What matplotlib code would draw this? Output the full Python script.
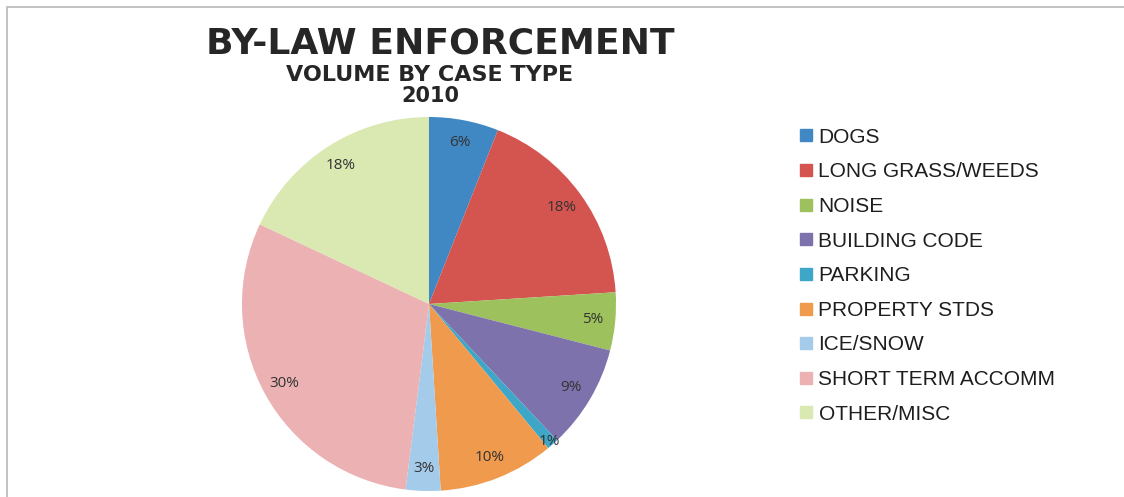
import matplotlib.pyplot as plt
from matplotlib.lines import Line2D
from matplotlib.patches import Rectangle

# Datos
categorias = ["DOGS", "LONG GRASS/WEEDS", "NOISE", "BUILDING CODE", "PARKING",
              "PROPERTY STDS", "ICE/SNOW", "SHORT TERM ACCOMM", "OTHER/MISC"]
porcentajes = [6, 18, 5, 9, 1, 10, 3, 30, 18]
colores = ["#3f88c3", "#d4544f", "#9dc15c", "#7e72ad", "#3ea7c7",
           "#ef9a4d", "#a5cbeb", "#ecb1b3", "#dae8b2"]

W, H = 1124, 497
fig = plt.figure(figsize=(W / 100, H / 100), dpi=100)
fig.patch.set_facecolor("white")

# marco gris del grafico
fig.add_artist(Rectangle((7 / W, -0.1), 1.2, (H - 7) / H + 0.1, transform=fig.transFigure,
                         fill=False, edgecolor="#b8b8b8", linewidth=1.2))

# pastel: centro (429, 304), radio 187 px
cx, cy, r = 429, 304, 187
ax = fig.add_axes([(cx - r) / W, (H - cy - r) / H, 2 * r / W, 2 * r / H])
wedges, textos, autotextos = ax.pie(
    porcentajes, colors=colores, startangle=90, counterclock=False,
    autopct="%d%%", pctdistance=0.88, radius=1,
    wedgeprops=dict(linewidth=0),
    textprops=dict(fontsize=11, color="#333333", family="Open Sans"))
# etiqueta de 1% en el borde
x1, y1 = autotextos[4].get_position()
autotextos[4].set_position((x1 * 1.11, y1 * 1.11))
ax.set_xlim(-1, 1)
ax.set_ylim(-1, 1)
ax.set_aspect("equal")
ax.axis("off")

# titulos
fig.text(440 / W, 1 - 44 / H, "BY-LAW ENFORCEMENT", ha="center", va="center",
         fontsize=26, fontweight="heavy", color="#262626", family="DejaVu Sans")
fig.text(430 / W, 1 - 75 / H, "VOLUME BY CASE TYPE", ha="center", va="center",
         fontsize=16, fontweight="heavy", color="#262626", family="DejaVu Sans")
fig.text(430 / W, 1 - 96 / H, "2010", ha="center", va="center",
         fontsize=15, fontweight="heavy", color="#262626", family="DejaVu Sans")

# leyenda
handles = [Line2D([], [], marker="s", linestyle="none", markersize=9,
                  markerfacecolor=c, markeredgecolor=c) for c in colores]
fig.legend(handles, categorias, loc="upper left",
           bbox_to_anchor=(781 / W, 1 - 109 / H), frameon=False,
           prop=dict(family="Liberation Sans", size=15),
           handlelength=0.6, handletextpad=0.3, labelspacing=0.75,
           labelcolor="#1e1e1e")

fig.savefig("out.png", dpi=100)
